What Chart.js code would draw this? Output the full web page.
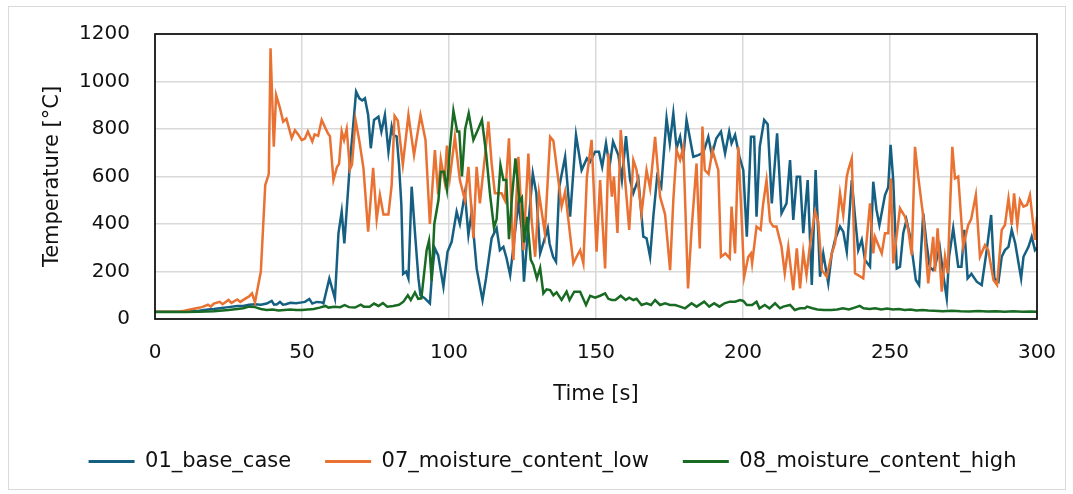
<!DOCTYPE html>
<html>
<head>
<meta charset="utf-8">
<script src="https://cdn.jsdelivr.net/npm/chart.js@4/dist/chart.umd.min.js"></script>
<style>
  html, body { margin: 0; padding: 0; background: #fff; }
  #wrap { position: relative; width: 1073px; height: 494px; }
  #frame { position: absolute; left: 8px; top: 6px; width: 1056px; height: 482px; border: 1px solid #d9d9d9; }
  #c { position: absolute; left: 0; top: 0; }
</style>
</head>
<body>
<div id="wrap">
  <div id="frame"></div>
  <canvas id="c" width="1073" height="494"></canvas>
</div>
<script>
// series names
var seriesNames = ["01_base_case", "07_moisture_content_low", "08_moisture_content_high"];
var seriesColors = ["#156082", "#E97132", "#196B24"];

// tick values
var xTicks = [0, 50, 100, 150, 200, 250, 300];
var yTicks = [0, 200, 400, 600, 800, 1000, 1200];

// 01_base_case
var baseTime = [0,10,15,18,20,22,25,28,30,32,34,36,38,39.7,40.5,41.5,42.5,43.5,44.5,46,48,50,51,52.5,53.5,55,56.7,57.3,59.3,61.2,62.4,63.5,64.4,65.2,66.3,68.4,69.5,70.5,71.4,72.5,73.4,74.5,76,77,78.2,79.4,80.5,81.1,82.2,83,83.8,84.4,85.4,86.2,87.3,88.4,89.6,90.3,91.8,93.5,94.3,95.2,96.3,98.1,99.5,100.9,102.6,103.7,105.4,106.6,107.7,109.4,111.4,112.6,114.5,116.2,117.3,118.5,119.6,120.8,122.1,123.6,124.7,125.5,127,128.5,129.7,131,132.1,133.6,134.2,135.4,136.4,137.5,139.5,141.2,143.2,145.1,146.9,147.9,149.7,151,152.1,153.4,154.6,155.8,157.6,158.8,160.2,161.6,162.7,164.4,166.1,167.2,168.4,169.5,170.8,172.2,174,175.1,176.3,177.4,178.6,179.7,180.8,183.1,184.8,186.5,188.2,189.4,190.9,192.5,193.9,195.3,196.1,197.3,198.8,200.1,201.3,202.7,203.8,204.6,205.7,207.2,208.4,209.8,211.6,213.1,214.8,216,217.1,218.3,219.4,220.5,222,223.4,224.7,226.2,227.3,229,230.2,231.3,233,234.1,235.3,237,238.1,239.2,240.4,241.5,243.2,244.3,245.4,246.4,248.3,249.4,250.2,251.1,252.3,253.4,254.5,255.6,256.8,258.8,259.9,261.3,262.4,263.5,264.6,265.3,266.9,268.2,269.3,270.1,271.5,273.2,274.3,275.3,276.4,277.7,279.5,281.2,282.9,284.4,285.5,286.9,288,289.1,290.3,291.4,292.6,294.6,295.4,297.1,298.2,299.3,300];
var baseTemp = [30,31,35,40,42,45,50,55,55,60,62,60,65,76,60,62,72,60,62,68,66,70,72,84,65,72,70,66,171,87,361,452,318,459,655,957,929,920,929,859,719,838,852,789,859,704,810,775,768,650,480,190,200,171,557,368,171,100,87,66,200,297,269,136,283,325,452,400,529,354,450,213,80,171,340,382,290,304,255,185,325,494,382,157,400,613,530,276,320,382,318,262,241,557,683,431,775,627,676,660,704,704,641,740,641,747,690,585,770,585,530,590,347,340,262,431,599,557,845,740,866,719,767,680,838,683,690,700,767,690,760,789,697,789,740,775,683,627,347,767,767,431,725,838,820,487,782,445,487,669,417,599,599,361,585,143,627,178,276,150,276,333,389,368,283,585,430,290,333,248,220,578,460,396,522,555,733,585,213,220,361,417,350,164,143,445,320,220,206,220,304,178,87,262,382,220,220,375,171,190,157,143,290,438,171,157,262,290,304,375,318,171,262,304,347,290,300];

// 07_moisture_content_low
var lowTime = [0,8,10,12,14,16,18,19,20,22,23,25,26,28,29,31,32,33,34,36,37.5,38.7,39.3,40.4,41.2,42.5,43.6,44.7,46.5,47.6,48.7,49.9,51,52,53.5,54.3,55.5,56.7,57.8,58.9,59.5,60.7,61.9,62.6,63.5,64.3,65.2,66.3,67,68.2,69.5,70.9,72.5,74.2,75.4,76.5,77.7,79.4,80.5,81.5,82.6,84.3,86.2,88.1,90.3,92,93.5,95.2,96.3,97.2,98.5,99.3,100.3,102,103.7,105.4,106.6,108.3,109.4,110.5,112.2,113.4,114.5,115.6,117.9,119,120.4,121.9,123.6,125.3,127,128.1,129.3,130.6,132.6,134.4,135.5,137.2,138.3,139.5,142.3,143.4,144.6,145.7,146.9,148.5,150.2,151.4,153.1,154.2,155.4,156.1,157.3,158.4,159.9,161.3,162.7,163.8,165.5,167.2,168.4,170.1,171.8,173.5,175.2,176.3,177.4,178.6,179.7,181.3,182.5,184.2,185.3,186.2,187,188.3,189.6,191.6,192.5,194,195.5,196.1,197.3,198.4,199.5,200.4,201.8,202.7,203.1,204.6,206,206.8,208,209.2,210.3,211.4,213.1,214.2,215.4,217.1,218.3,219.4,220.5,221.6,222.7,224.5,225.6,226.8,228.5,230.2,231.3,233,234.1,235.3,235.8,237,238.1,240.9,243.2,244.3,244.9,247.2,248.3,249.4,250.3,251.1,253.4,255.1,256.2,257.4,258.5,259.6,261.3,263,264.7,265.3,266.2,267.6,268.7,269.6,271.2,272.1,273.2,274.9,276.6,277.6,279.2,280.6,282.3,283.4,285.2,286.4,288,289.1,290.3,291.4,292.2,293.3,294.2,295.4,296.6,297.6,299.3,300];
var lowTemp = [30,31,35,40,45,50,60,52,65,72,62,80,68,82,72,88,95,108,70,200,564,610,1140,725,943,888,831,843,762,795,777,753,760,790,747,777,771,838,808,780,770,585,640,653,790,753,800,630,650,838,750,635,368,636,420,522,440,440,564,855,835,650,859,690,859,754,400,711,525,672,580,730,597,767,585,501,641,340,641,487,683,831,655,529,529,500,761,248,683,290,697,417,262,530,362,767,750,585,473,536,234,262,290,234,599,754,283,585,213,697,515,600,362,796,585,375,669,627,445,627,550,767,515,440,206,501,711,670,725,129,375,655,297,810,627,610,711,627,262,276,255,473,276,725,431,178,262,276,234,389,375,480,585,410,389,389,304,192,304,122,297,129,283,185,304,452,410,206,178,276,318,529,438,599,627,676,192,171,487,276,346,276,361,361,592,234,466,431,375,269,725,599,431,150,346,200,382,115,262,192,725,592,600,304,396,420,522,262,311,290,164,143,375,396,508,396,529,396,501,473,480,522,333,431];

// 08_moisture_content_high
var highTime = [0,10,15,20,25,28,30,32,34,36,38,40,42,44,46,48,50,52,54,56,58,59,61,63,64.5,66,68,70,71,73,74.5,76,77.5,79,81,83,84.5,86,87,88.4,89.5,90.6,92.4,93.2,94.1,95,96.4,97.2,98.3,99.3,100.3,101.5,102.8,103.5,104.4,105.5,106.7,108.3,109.6,111.2,112.6,114,115.3,116.2,117.5,118.5,119.5,120.4,121.4,122.6,124,124.8,125.6,126.6,127.8,128.7,129.9,131,132.1,133.2,134.4,135.5,136.6,138.3,140,141,142.6,143.7,144.6,146.6,148,149.7,151.4,153.1,154.2,155.4,156.6,158.4,160.1,161.3,162.7,163.8,165.5,167.2,168.7,170.1,171.8,173.5,175.2,176.9,178.6,180.3,182.5,184.2,186.8,188.5,190.2,192,193.7,195.5,197.3,199,200.1,201.3,203.1,204.6,205.6,207.4,209,210.9,212.6,213.7,216,217.6,219.4,221.1,221.8,223.6,225.3,227.6,230,232,234,236,238,239.7,241,243,245,247,249,251,253,255,257,259,261,263,265,268,271,274,277,280,283,286,289,292,295,298,300];
var highTemp = [30,30,31,33,38,42,45,52,50,42,38,40,36,38,40,38,38,40,42,48,55,48,52,50,58,50,48,60,52,52,65,55,67,52,55,60,73,100,80,112,85,87,290,330,160,400,500,620,620,545,720,877,789,789,600,800,866,754,790,838,700,520,385,420,648,585,585,336,510,676,494,510,322,430,250,227,171,215,108,125,122,100,112,80,115,80,115,115,115,59,98,90,98,108,85,80,80,98,80,90,80,85,59,66,59,80,59,66,59,59,52,45,66,52,73,52,66,52,66,73,73,80,76,59,59,73,45,59,45,66,45,52,59,38,45,45,52,45,40,38,38,40,45,40,48,55,45,42,45,40,44,40,42,38,40,36,38,36,35,33,35,33,32,34,32,33,31,33,31,32,30];

var allTimes = [baseTime, lowTime, highTime];
var allTemps = [baseTemp, lowTemp, highTemp];

function toPoints(ts, vs) {
  var pts = [];
  for (var i = 0; i < ts.length; i++) pts.push({ x: ts[i], y: vs[i] });
  return pts;
}

var datasets = seriesNames.map(function (name, i) {
  return {
    label: name,
    data: toPoints(allTimes[i], allTemps[i]),
    borderColor: seriesColors[i],
    backgroundColor: seriesColors[i],
    borderWidth: 2.5,
    pointRadius: 0,
    tension: 0,
    order: 3 - i   // last series on top, like the spreadsheet
  };
});

// black frame round the plot area
var plotFrame = {
  id: "plotFrame",
  afterDatasetsDraw: function (chart) {
    var a = chart.chartArea, ctx = chart.ctx;
    ctx.save();
    ctx.strokeStyle = "#111";
    ctx.lineWidth = 1.75;
    ctx.strokeRect(a.left, a.top, a.right - a.left, a.bottom - a.top);
    ctx.restore();
  }
};

var font = "DejaVu Sans";
var txt = "#111";

new Chart(document.getElementById("c"), {
  type: "line",
  data: { datasets: datasets },
  plugins: [plotFrame],
  options: {
    responsive: false,
    animation: false,
    devicePixelRatio: 1,
    layout: { padding: { left: 32, right: 0, top: 34, bottom: 12 } },
    plugins: {
      tooltip: { enabled: false },
      legend: {
        position: "bottom",
        labels: {
          font: { family: font, size: 21 },
          color: txt,
          boxWidth: 46,
          boxHeight: 3,
          padding: 34,
          generateLabels: function (chart) {
            return chart.data.datasets.map(function (ds, i) {
              return {
                text: ds.label,
                fillStyle: ds.borderColor,
                strokeStyle: ds.borderColor,
                lineWidth: 0,
                hidden: false,
                datasetIndex: i,
                fontColor: txt
              };
            });
          }
        }
      }
    },
    scales: {
      x: {
        type: "linear",
        min: 0,
        max: 300,
        afterBuildTicks: function (s) { s.ticks = xTicks.map(function (v) { return { value: v }; }); },
        ticks: { font: { family: font, size: 20 }, color: txt, padding: 22, callback: function (v) { return String(v); } },
        grid: { color: "#d9d9d9", lineWidth: 1.5, drawTicks: false },
        border: { display: false },
        title: {
          display: true,
          text: "Time [s]",
          font: { family: font, size: 21 },
          color: txt,
          padding: { top: 0, bottom: 10 }
        },
        afterFit: function (s) { s.height = 98; s.paddingLeft = 0; s.paddingRight = 0; }
      },
      y: {
        min: 0,
        max: 1200,
        afterBuildTicks: function (s) { s.ticks = yTicks.map(function (v) { return { value: v }; }); },
        ticks: { font: { family: font, size: 20 }, color: txt, padding: 25, callback: function (v) { return String(v); } },
        grid: { color: "#d9d9d9", lineWidth: 1.5, drawTicks: false },
        border: { display: false },
        title: {
          display: true,
          text: "Temperature [°C]",
          font: { family: font, size: 21 },
          color: txt,
          padding: { top: 8, bottom: 0 }
        },
        afterFit: function (s) { s.width = 123; s.paddingTop = 0; s.paddingBottom = 0; }
      },
      yRight: {
        position: "right",
        display: true,
        grid: { display: false },
        border: { display: false },
        ticks: { display: false },
        afterFit: function (s) { s.width = 36; s.paddingTop = 0; s.paddingBottom = 0; }
      }
    }
  }
});
</script>
</body>
</html>
